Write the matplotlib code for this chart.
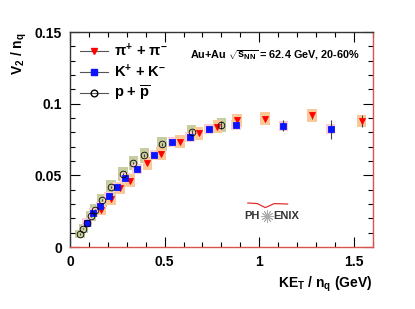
import matplotlib
matplotlib.use('Agg')
import matplotlib.pyplot as plt
from matplotlib.lines import Line2D
import numpy as np

plt.rcParams['font.family'] = ['Liberation Sans', 'DejaVu Sans']
plt.rcParams['mathtext.fontset'] = 'custom'
plt.rcParams['mathtext.rm'] = 'Liberation Sans:bold'
plt.rcParams['mathtext.it'] = 'Liberation Sans:bold'
plt.rcParams['mathtext.bf'] = 'Liberation Sans:bold'

# pions (pi+ + pi-)
pi_x = [0.164, 0.215, 0.266, 0.317, 0.409, 0.481, 0.582, 0.679, 0.778, 0.882, 1.03, 1.279, 1.541]
pi_y = [0.026, 0.0335, 0.041, 0.0464, 0.0585, 0.0652, 0.0734, 0.0795, 0.0839, 0.0883, 0.0895, 0.092, 0.0879]
pi_stat = [0.0005, 0.0005, 0.0005, 0.0005, 0.0006, 0.0006, 0.0007, 0.0008, 0.001, 0.0012, 0.0015, 0.0025, 0.004]
pi_sys = [0.0035, 0.004, 0.004, 0.0042, 0.0045, 0.0045, 0.0045, 0.0045, 0.0045, 0.0045, 0.0045, 0.0045, 0.0045]

# kaons (K+ + K-)
k_x = [0.088, 0.123, 0.16, 0.205, 0.25, 0.291, 0.353, 0.446, 0.54, 0.633, 0.732, 0.878, 1.127, 1.377]
k_y = [0.017, 0.024, 0.0287, 0.0354, 0.042, 0.048, 0.0543, 0.0639, 0.0732, 0.0765, 0.082, 0.0851, 0.0846, 0.0823]
k_stat = [0.0005, 0.0005, 0.0005, 0.0006, 0.0006, 0.0007, 0.0008, 0.0009, 0.001, 0.0012, 0.0015, 0.002, 0.004, 0.0066]
k_sys = [0.003, 0.003, 0.003, 0.0032, 0.0034, 0.0035, 0.0035, 0.0035, 0.0035, 0.0035, 0.0035, 0.0035, 0.0035, 0.0035]

# protons (p + pbar)
p_x = [0.053, 0.07, 0.09, 0.11, 0.132, 0.168, 0.217, 0.279, 0.335, 0.393, 0.487, 0.642, 0.80]
p_y = [0.0091, 0.0128, 0.017, 0.0215, 0.026, 0.0327, 0.042, 0.0508, 0.0585, 0.0639, 0.0718, 0.0802, 0.0851]
p_stat = [0.0005, 0.0005, 0.0005, 0.0005, 0.0005, 0.0006, 0.0006, 0.0007, 0.0008, 0.0009, 0.001, 0.0015, 0.003]
p_sys = [0.003, 0.003, 0.003, 0.0035, 0.004, 0.0045, 0.005, 0.005, 0.005, 0.005, 0.005, 0.005, 0.005]

series = [
    (p_x, p_y, p_stat, p_sys, '#c9cc9e', 'o', 'none', 'k', 4.8, r'p + $\overline{\rm p}$'),
    (k_x, k_y, k_stat, k_sys, '#f9cdd6', 's', '#0a14ff', '#0a14ff', 4.5, r'K$^{+}$ + K$^{-}$'),
    (pi_x, pi_y, pi_stat, pi_sys, '#f9c99a', 'v', '#ff0000', '#ff0000', 4.8, r'$\pi^{+}$ + $\pi^{-}$'),
]

fig = plt.figure(figsize=(4.15, 3.09), dpi=100)
ax = fig.add_axes([0.169, 0.2006, 0.729, 0.6958])

for x, y, st, sy, bc, m, fc, ec, ms, lab in series:
    x = np.array(x); y = np.array(y); sy = np.array(sy)
    ax.bar(x, 2 * sy, bottom=y - sy, width=0.05, color=bc, zorder=1)
for x, y, st, sy, bc, m, fc, ec, ms, lab in series[::-1]:
    ax.errorbar(x, y, yerr=st, fmt=m, ms=ms, mfc=fc, mec=ec, mew=0.6,
                ecolor='#444444', elinewidth=0.8, capsize=0, zorder=3)

ax.set_xlim(0, 1.6)
ax.set_ylim(0, 0.15)
ax.set_xticks([0, 0.5, 1, 1.5])
ax.set_xticklabels(['0', '0.5', '1', '1.5'])
ax.set_yticks([0, 0.05, 0.1, 0.15])
ax.set_yticklabels(['0', '0.05', '0.1', '0.15'])
ax.set_xticks(np.arange(0, 1.61, 0.1), minor=True)
ax.set_yticks(np.arange(0, 0.151, 0.01), minor=True)
ax.tick_params(which='both', direction='in', top=True, right=True, width=0.8)
ax.tick_params(which='major', length=7, labelsize=10, pad=6)
ax.tick_params(which='minor', length=3.5)
for lab in ax.get_xticklabels() + ax.get_yticklabels():
    lab.set_fontweight('bold')

for s in ['bottom', 'right']:
    ax.spines[s].set_color('#d9534f')
for s in ['left', 'top']:
    ax.spines[s].set_color('#333333')
for s in ax.spines.values():
    s.set_linewidth(1.0)

ax.set_ylabel(r'V$_{2}$ / n$_{q}$', fontsize=10, fontweight='bold', loc='top')
ax.set_xlabel(r'KE$_{T}$ / n$_{q}$ (GeV)', fontsize=10, fontweight='bold', loc='right')
ax.yaxis.set_label_coords(-0.135, 1.0)
ax.xaxis.set_label_coords(1.0, -0.13)

ax.text(0.635, 0.1335, r'Au+Au $\sqrt{s_{NN}}$ = 62.4 GeV, 20-60%', fontsize=7.8,
        fontweight='bold', ha='left', va='center')

# PHENIX logo
ax.text(1.0, 0.0219, 'PH', fontsize=8, fontweight='bold', color='#333333', ha='right', va='center')
ax.text(1.074, 0.0219, 'ENIX', fontsize=8, fontweight='bold', color='#333333', ha='left', va='center')
ax.plot([1.04], [0.0219], marker=(12, 2, 0), ms=9, color='#aaaaaa', mew=0.6)
wx = np.array([0.94, 0.99, 1.032, 1.08, 1.15])
wy = np.array([0.0307, 0.0303, 0.0275, 0.0303, 0.030])
ax.plot(wx, wy, color='#e03030', lw=0.9)

handles = [Line2D([], [], color='#555555', lw=0.8, marker=m, ms=ms, mfc=fc, mec=ec)
           for x, y, st, sy, bc, m, fc, ec, ms, lab in series[::-1]]
labels = [s[-1] for s in series[::-1]]
leg = ax.legend(handles, labels, loc='upper left', frameon=False,
                handlelength=1.9, handletextpad=0.4, labelspacing=0.25,
                borderaxespad=0.3, prop={'weight': 'bold', 'size': 10.5})

fig.savefig('out.png', dpi=100)
